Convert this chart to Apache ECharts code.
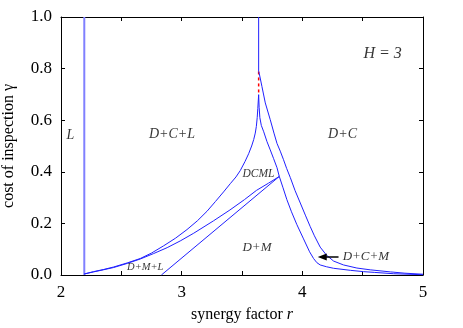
<!DOCTYPE html>
<html>
<head>
<meta charset="utf-8">
<script src="https://cdn.jsdelivr.net/npm/echarts@6/dist/echarts.min.js"></script>
<style>
html,body{margin:0;padding:0;background:#fff;}
#c{width:463px;height:328px;}
</style>
</head>
<body>
<div id="c"></div>
<script>
// ---- data ----
var xTicks = [2, 3, 4, 5];
var yTicks = [0.0, 0.2, 0.4, 0.6, 0.8, 1.0];

// vertical L boundary (light blue)
var lineL = [[2.193, 0], [2.193, 1.0]];
// vertical upper boundary at the cusp
var lineTop = [[3.638, 0.789], [3.638, 1.0]];
// red dashed segment
var lineRed = [[3.638, 0.789], [3.638, 0.699]];
// curve A: D+C+L lower boundary (left of cusp)
var curveA = [[2.193,0.004],[2.27,0.013],[2.35,0.021],[2.436,0.031],[2.55,0.047],[2.657,0.064],[2.75,0.085],[2.85,0.113],[2.95,0.143],[3.044,0.176],[3.13,0.21],[3.21,0.247],[3.28,0.285],[3.347,0.322],[3.403,0.354],[3.45,0.38],[3.486,0.405],[3.525,0.44],[3.555,0.47],[3.58,0.5],[3.597,0.525],[3.61,0.55],[3.619,0.576],[3.626,0.61],[3.631,0.645],[3.638,0.699]];
// curve B: upper line from junction to lower left
var curveB = [[2.193,0.004],[2.27,0.012],[2.35,0.02],[2.436,0.029],[2.55,0.045],[2.657,0.062],[2.767,0.083],[2.88,0.106],[2.988,0.132],[3.1,0.162],[3.264,0.21],[3.4,0.252],[3.52,0.292],[3.62,0.328],[3.72,0.356],[3.809,0.382]];
// line C: D+M+L / D+M boundary
var lineC = [[2.832,0],[3.809,0.382]];
// curve D: inner right boundary (cusp to r = 5)
var curveD = [[3.638,0.699],[3.642,0.65],[3.648,0.61],[3.66,0.58],[3.68,0.555],[3.707,0.517],[3.734,0.485],[3.762,0.451],[3.79,0.416],[3.809,0.382],[3.84,0.338],[3.872,0.292],[3.91,0.245],[3.955,0.195],[4.01,0.14],[4.06,0.09],[4.093,0.064],[4.12,0.048],[4.148,0.039],[4.2,0.032],[4.259,0.026],[4.4,0.018],[4.507,0.013],[4.6,0.010],[4.755,0.005],[5.0,0.001]];
// curve E: outer right boundary (top to r = 5)
var curveE = [[3.638,0.789],[3.643,0.781],[3.665,0.731],[3.693,0.667],[3.734,0.602],[3.765,0.55],[3.79,0.51],[3.817,0.48],[3.844,0.447],[3.87,0.413],[3.90,0.378],[3.94,0.327],[3.983,0.279],[4.025,0.232],[4.065,0.188],[4.1,0.152],[4.148,0.108],[4.2,0.077],[4.259,0.054],[4.341,0.039],[4.452,0.027],[4.563,0.020],[4.73,0.012],[4.85,0.007],[5.0,0.003]];

// region labels: [r, gamma, text]
var regionLabels = [
  [2.077, 0.543, 'L'],
  [2.92, 0.544, 'D+C+L'],
  [4.333, 0.544, 'D+C'],
  [4.665, 0.857, 'H = 3'],
  [3.637, 0.393, 'DCML'],
  [3.624, 0.105, 'D+M'],
  [2.698, 0.030, 'D+M+L'],
  [4.527, 0.072, 'D+C+M']
];
var labelSizes = {'L':14,'D+C+L':14,'D+C':14,'H = 3':16,'DCML':11.5,'D+M':13,'D+M+L':10.5,'D+C+M':13};
// arrow from label to region
var arrowFrom = [4.30, 0.07];
var arrowTo = [4.165, 0.07];

// ---- chart ----
var BLUE = '#2020ff';
var FONT = '"Liberation Serif", "Times New Roman", serif';
var chart = echarts.init(document.getElementById('c'), null, {renderer: 'canvas'});

function lineSeries(data, color, width, type) {
  return {
    type: 'line', data: data, showSymbol: false, symbol: 'none', silent: true,
    animation: false, clip: true,
    lineStyle: {color: color, width: width, type: type || 'solid'},
    z: 3
  };
}

var series = [
  lineSeries(lineL, '#8080ff', 2),
  lineSeries(lineTop, BLUE, 1),
  lineSeries(lineRed, '#ff0000', 1.5, [3, 3]),
  lineSeries(curveA, BLUE, 1),
  lineSeries(curveB, BLUE, 1),
  lineSeries(lineC, BLUE, 1),
  lineSeries(curveD, BLUE, 1),
  lineSeries(curveE, BLUE, 1),
  {
    type: 'scatter', symbolSize: 0, silent: true, animation: false, z: 5,
    data: regionLabels.map(function (d) {
      return {
        value: [d[0], d[1]],
        label: {
          show: true, position: 'inside', formatter: d[2],
          fontFamily: FONT, fontStyle: 'italic', fontSize: labelSizes[d[2]], color: '#000'
        }
      };
    })
  },
  {
    type: 'line', data: [], silent: true, animation: false,
    markLine: {
      silent: true, animation: false,
      symbol: ['none', 'triangle'], symbolSize: [7, 9],
      label: {show: false},
      lineStyle: {color: '#000', width: 1.5, type: 'solid'},
      data: [[{coord: arrowFrom}, {coord: arrowTo}]]
    }
  }
];

var axisCommon = {
  axisLine: {show: true, onZero: false, lineStyle: {color: '#000', width: 1}},
  axisTick: {show: true, inside: true, length: 4, lineStyle: {color: '#000', width: 1}},
  splitLine: {show: false}
};

chart.setOption({
  animation: false,
  backgroundColor: '#fff',
  grid: {left: 61, right: 40, top: 17, bottom: 53, containLabel: false, outerBoundsMode: 'none'},
  xAxis: [
    Object.assign({
      type: 'value', min: 2, max: 5, interval: 0.5, position: 'bottom',
      name: '{a|synergy factor }{b|r}', nameLocation: 'middle', nameGap: 32,
      nameTextStyle: {rich: {
        a: {fontFamily: FONT, fontSize: 16, color: '#000'},
        b: {fontFamily: FONT, fontSize: 16, fontStyle: 'italic', color: '#000'}
      }},
      axisLabel: {
        margin: 9, fontFamily: FONT, fontSize: 17, color: '#000',
        formatter: function (v) { return xTicks.indexOf(v) >= 0 ? String(v) : ''; }
      }
    }, axisCommon),
    Object.assign({
      type: 'value', min: 2, max: 5, interval: 0.5, position: 'top',
      axisLabel: {show: false}
    }, axisCommon)
  ],
  yAxis: [
    Object.assign({
      type: 'value', min: 0, max: 1, interval: 0.2, position: 'left',
      name: 'cost of inspection \u03b3', nameLocation: 'middle', nameGap: 44,
      nameTextStyle: {fontFamily: FONT, fontSize: 16, color: '#000'},
      axisLabel: {
        margin: 9, fontFamily: FONT, fontSize: 17, color: '#000',
        formatter: function (v) {
          for (var i = 0; i < yTicks.length; i++) {
            if (Math.abs(yTicks[i] - v) < 1e-9) return yTicks[i].toFixed(1);
          }
          return '';
        }
      }
    }, axisCommon),
    Object.assign({
      type: 'value', min: 0, max: 1, interval: 0.2, position: 'right',
      axisLabel: {show: false}
    }, axisCommon)
  ],
  series: series
});
</script>
</body>
</html>
